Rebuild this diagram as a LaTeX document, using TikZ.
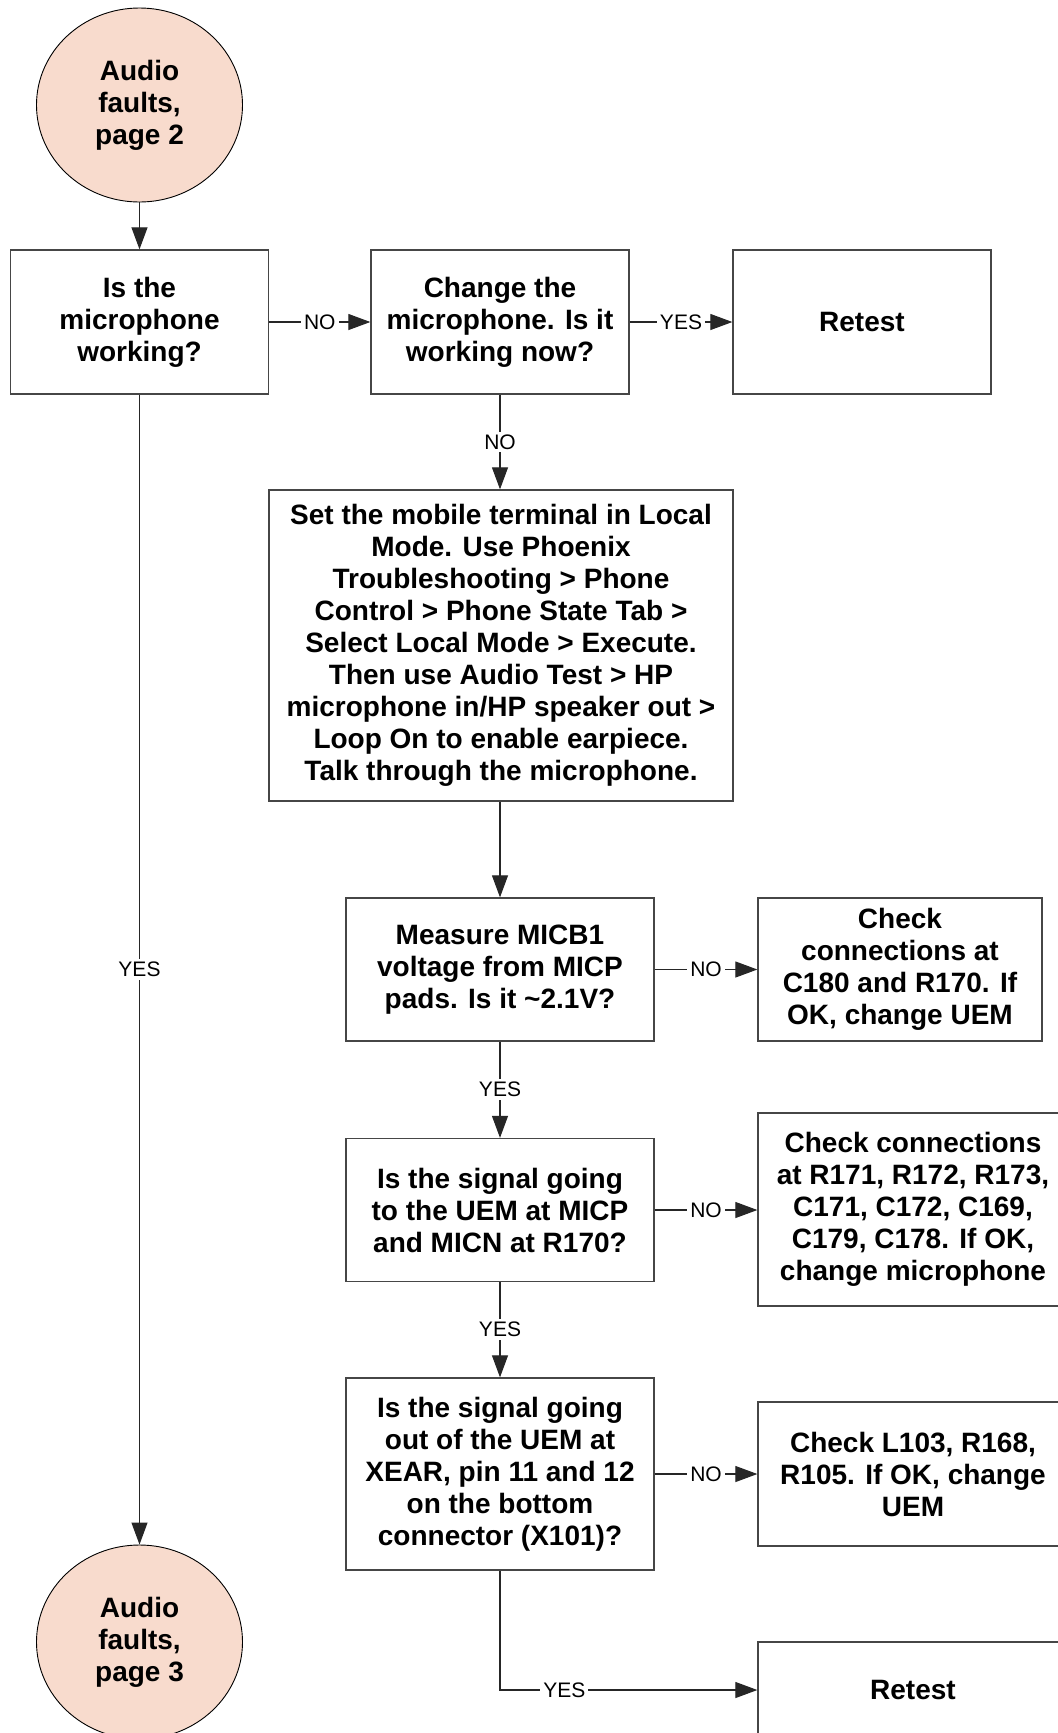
\documentclass[tikz,border=0pt]{standalone}
\usepackage{fontspec}
\setmainfont{Liberation Sans}
\usetikzlibrary{arrows.meta,shapes.geometric}
\definecolor{termfill}{RGB}{248,219,205}
\definecolor{boxline}{RGB}{70,70,70}
\begin{document}
\begin{tikzpicture}[
  x=1pt, y=-1pt,
  txt/.style={font=\bfseries\fontsize{28}{32}\selectfont, align=center, inner sep=0pt},
  stepbox/.style={txt, draw=boxline, line width=1.3pt, rectangle},
  term/.style={txt, ellipse, draw=black, line width=0.9pt, fill=termfill,
               minimum width=206, minimum height=194},
  conn/.style={draw=black!85, line width=1.1pt, -{Triangle[length=22pt,width=16pt]}},
  lbl/.style={font=\fontsize{21}{24}\selectfont, fill=white, inner sep=3pt}
]
\useasboundingbox (0,0) rectangle (1058,1733);
\fill[white] (0,0) rectangle (1058,1733);
\clip (0,0) rectangle (1058,1733);

% terminators
\node[term] (start) at (139.5,105) {Audio\\faults,\\page 2};
\node[term] (next)  at (139.5,1642) {Audio\\faults,\\page 3};

% first row
\node[stepbox, minimum width=258, minimum height=144] (mic) at (139.5,322)
  {Is the\\microphone\\working?};
\node[stepbox, minimum width=258, minimum height=144] (change) at (500,322)
  {Change the\\microphone. Is it\\working now?};
\node[stepbox, minimum width=258, minimum height=144] (retestA) at (862,322)
  {Retest};

% local mode instructions
\node[stepbox, minimum width=464, minimum height=311] (local) at (501,645.5)
  {Set the mobile terminal in Local\\Mode. Use Phoenix\\Troubleshooting > Phone\\Control > Phone State Tab >\\Select Local Mode > Execute.\\Then use Audio Test > HP\\microphone in/HP speaker out >\\Loop On to enable earpiece.\\Talk through the microphone.};

% measurement chain
\node[stepbox, minimum width=308, minimum height=143] (micb) at (500,969.5)
  {Measure MICB1\\voltage from MICP\\pads. Is it \textasciitilde2.1V?};
\node[stepbox, minimum width=284, minimum height=143] (chkA) at (900,969.5)
  {Check\\connections at\\C180 and R170. If\\OK, change UEM};

\node[stepbox, minimum width=308, minimum height=143] (sigin) at (500,1210)
  {Is the signal going\\to the UEM at MICP\\and MICN at R170?};
\node[stepbox, minimum width=310, minimum height=193] (chkB) at (913,1209.5)
  {Check connections\\at R171, R172, R173,\\C171, C172, C169,\\C179, C178. If OK,\\change microphone};

\node[stepbox, minimum width=308, minimum height=192] (sigout) at (500,1474)
  {Is the signal going\\out of the UEM at\\XEAR, pin 11 and 12\\on the bottom\\connector (X101)?};
\node[stepbox, minimum width=310, minimum height=144] (chkC) at (913,1474)
  {Check L103, R168,\\R105. If OK, change\\UEM};

\node[stepbox, minimum width=310, minimum height=96] (retestB) at (913,1690)
  {Retest};
\coordinate (bend) at (sigout.south |- retestB.west);

% connectors
\draw[conn] (start) -- (mic);
\draw[conn] (mic) -- node[lbl] {NO} (change);
\draw[conn] (change) -- node[lbl] {YES} (retestA);
\draw[conn] (change) -- node[lbl] {NO} (local.north -| change.south);
\draw[conn] (local.south -| micb.north) -- (micb);
\draw[conn] (micb) -- node[lbl] {NO} (chkA);
\draw[conn] (micb) -- node[lbl] {YES} (sigin);
\draw[conn] (sigin) -- node[lbl] {NO} (chkB.west |- sigin.east);
\draw[conn] (sigin) -- node[lbl] {YES} (sigout);
\draw[conn] (sigout) -- node[lbl] {NO} (chkC);
\draw[conn] (sigout.south) -- (bend) -- node[lbl, pos=0.25] {YES} (retestB.west);
\draw[conn] (mic) -- node[lbl] {YES} (next);

\end{tikzpicture}
\end{document}
